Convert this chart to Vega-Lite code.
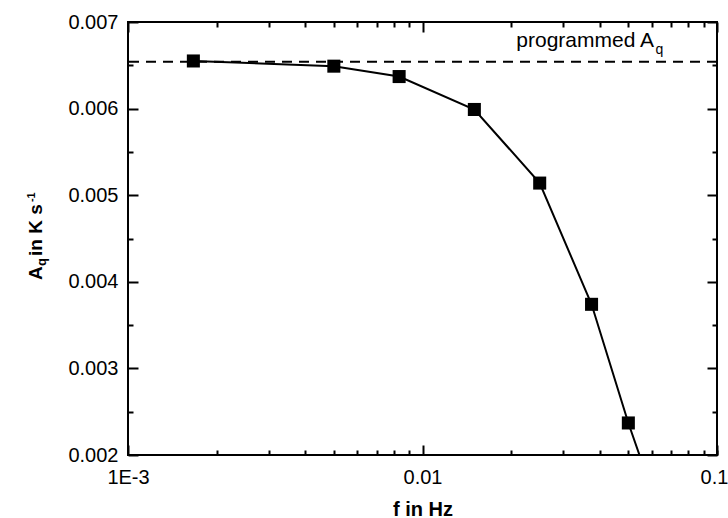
{
  "$schema": "https://vega.github.io/schema/vega-lite/v6.json",
  "width": 589,
  "height": 433,
  "autosize": {"type": "none"},
  "padding": {"left": 128, "top": 22, "right": 11, "bottom": 63},
  "background": "white",
  "config": {
    "view": {"stroke": "black", "strokeWidth": 2},
    "axis": {"domain": false, "grid": false, "tickColor": "black", "tickWidth": 2, "labelFont": "Liberation Sans", "labelFontSize": 20, "labelColor": "black", "titleFont": "Liberation Sans", "titleFontSize": 20, "titleFontWeight": "bold", "titleColor": "black", "labelBound": false, "labelOverlap": false, "labelFlush": false}
  },
  "datasets": {
    "pts": [
      {"f": 0.001667, "A": 0.00655},
      {"f": 0.005, "A": 0.00649},
      {"f": 0.00833, "A": 0.00637},
      {"f": 0.015, "A": 0.00599},
      {"f": 0.025, "A": 0.00514},
      {"f": 0.0375, "A": 0.00374},
      {"f": 0.05, "A": 0.00237},
      {"f": 0.0625, "A": 0.00142}
    ]
  },
  "resolve": {"axis": {"x": "independent", "y": "independent"}},
  "layer": [
    {
      "data": {"name": "pts"},
      "mark": {"type": "line", "color": "black", "strokeWidth": 2, "clip": true},
      "encoding": {
        "x": {"field": "f", "type": "quantitative", "title": "f in Hz",
          "scale": {"type": "log", "domain": [0.001, 0.1], "nice": false},
          "axis": {"orient": "bottom", "values": [0.001, 0.01, 0.1], "tickSize": -10, "labelPadding": 22, "titlePadding": 12,
            "labelExpr": "datum.value < 0.005 ? '1E-3' : (datum.value < 0.05 ? '0.01' : '')"}},
        "y": {"field": "A", "type": "quantitative", "title": null,
          "scale": {"domain": [0.002, 0.007], "nice": false, "zero": false},
          "axis": {"orient": "left", "values": [0.002, 0.003, 0.004, 0.005, 0.006, 0.007], "tickSize": -10, "labelPadding": 20, "format": ".3f"}}
      }
    },
    {
      "data": {"name": "pts"},
      "mark": {"type": "point", "shape": "square", "filled": true, "color": "black", "size": 170, "opacity": 1, "clip": true},
      "encoding": {
        "x": {"field": "f", "type": "quantitative", "title": null,
          "scale": {"type": "log", "domain": [0.001, 0.1], "nice": false},
          "axis": {"orient": "bottom", "values": [0.002, 0.003, 0.004, 0.005, 0.006, 0.007, 0.008, 0.009, 0.02, 0.03, 0.04, 0.05, 0.06, 0.07, 0.08, 0.09, 0.1], "tickSize": -5, "labelPadding": 17, "labelOffset": -3,
            "labelExpr": "datum.value > 0.095 ? '0.1' : ''"}},
        "y": {"field": "A", "type": "quantitative", "title": null,
          "scale": {"domain": [0.002, 0.007], "nice": false, "zero": false},
          "axis": {"orient": "left", "values": [0.0025, 0.0035, 0.0045, 0.0055, 0.0065], "tickSize": -5, "labels": false}}
      }
    },
    {
      "data": {"name": "pts"},
      "mark": {"type": "point", "opacity": 0, "clip": true},
      "encoding": {
        "x": {"field": "f", "type": "quantitative", "title": null,
          "scale": {"type": "log", "domain": [0.001, 0.1], "nice": false},
          "axis": {"orient": "top", "values": [0.001, 0.01, 0.1], "tickSize": -10, "labels": false}},
        "y": {"field": "A", "type": "quantitative", "title": null,
          "scale": {"domain": [0.002, 0.007], "nice": false, "zero": false},
          "axis": {"orient": "right", "values": [0.002, 0.003, 0.004, 0.005, 0.006, 0.007], "tickSize": -10, "labels": false}}
      }
    },
    {
      "data": {"name": "pts"},
      "mark": {"type": "point", "opacity": 0, "clip": true},
      "encoding": {
        "x": {"field": "f", "type": "quantitative", "title": null,
          "scale": {"type": "log", "domain": [0.001, 0.1], "nice": false},
          "axis": {"orient": "top", "values": [0.002, 0.003, 0.004, 0.005, 0.006, 0.007, 0.008, 0.009, 0.02, 0.03, 0.04, 0.05, 0.06, 0.07, 0.08, 0.09], "tickSize": -5, "labels": false}},
        "y": {"field": "A", "type": "quantitative", "title": null,
          "scale": {"domain": [0.002, 0.007], "nice": false, "zero": false},
          "axis": {"orient": "right", "values": [0.0025, 0.0035, 0.0045, 0.0055, 0.0065], "tickSize": -5, "labels": false}}
      }
    },
    {
      "data": {"values": [{"label": "programmed", "A": 0.00654}]},
      "mark": {"type": "rule", "color": "black", "strokeWidth": 2, "strokeDash": [10, 7]},
      "encoding": {
        "y": {"field": "A", "type": "quantitative", "axis": null}
      }
    },
    {
      "data": {"values": [{"t": "programmed A", "f": 0.06112, "A": 0.006715}]},
      "mark": {"type": "text", "align": "right", "baseline": "alphabetic", "font": "Liberation Sans", "fontSize": 21, "color": "black"},
      "encoding": {
        "text": {"field": "t"},
        "x": {"field": "f", "type": "quantitative", "axis": null},
        "y": {"field": "A", "type": "quantitative", "axis": null}
      }
    },
    {
      "data": {"values": [{"t": "q", "f": 0.0618, "A": 0.006635}]},
      "mark": {"type": "text", "align": "left", "baseline": "alphabetic", "font": "Liberation Sans", "fontSize": 14, "color": "black"},
      "encoding": {
        "text": {"field": "t"},
        "x": {"field": "f", "type": "quantitative", "axis": null},
        "y": {"field": "A", "type": "quantitative", "axis": null}
      }
    },
    {
      "data": {"values": [{"t": "A", "f": 0.001, "A": 0.004021}]},
      "mark": {"type": "text", "angle": 270, "align": "left", "baseline": "alphabetic", "font": "Liberation Sans", "fontWeight": "bold", "fontSize": 19, "color": "black", "dy": -86},
      "encoding": {
        "text": {"field": "t"},
        "x": {"field": "f", "type": "quantitative", "axis": null},
        "y": {"field": "A", "type": "quantitative", "axis": null}
      }
    },
    {
      "data": {"values": [{"t": "q", "f": 0.001, "A": 0.004182}]},
      "mark": {"type": "text", "angle": 270, "align": "left", "baseline": "alphabetic", "font": "Liberation Sans", "fontWeight": "bold", "fontSize": 13, "color": "black", "dy": -82},
      "encoding": {
        "text": {"field": "t"},
        "x": {"field": "f", "type": "quantitative", "axis": null},
        "y": {"field": "A", "type": "quantitative", "axis": null}
      }
    },
    {
      "data": {"values": [{"t": "in K s", "f": 0.001, "A": 0.004298}]},
      "mark": {"type": "text", "angle": 270, "align": "left", "baseline": "alphabetic", "font": "Liberation Sans", "fontWeight": "bold", "fontSize": 19, "color": "black", "dy": -86},
      "encoding": {
        "text": {"field": "t"},
        "x": {"field": "f", "type": "quantitative", "axis": null},
        "y": {"field": "A", "type": "quantitative", "axis": null}
      }
    },
    {
      "data": {"values": [{"t": "-1", "f": 0.001, "A": 0.004921}]},
      "mark": {"type": "text", "angle": 270, "align": "left", "baseline": "alphabetic", "font": "Liberation Sans", "fontWeight": "bold", "fontSize": 11, "color": "black", "dy": -93},
      "encoding": {
        "text": {"field": "t"},
        "x": {"field": "f", "type": "quantitative", "axis": null},
        "y": {"field": "A", "type": "quantitative", "axis": null}
      }
    }
  ]
}
